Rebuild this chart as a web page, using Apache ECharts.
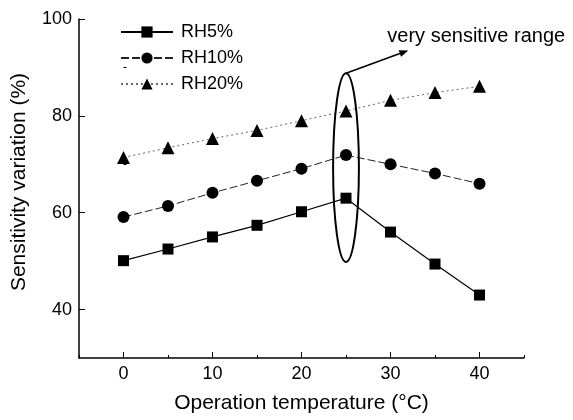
<!DOCTYPE html>
<html>
<head>
<meta charset="utf-8">
<script src="https://cdn.jsdelivr.net/npm/echarts@6/dist/echarts.min.js"></script>
<style>
  html, body { margin: 0; padding: 0; background: #fff; }
  #chart { width: 573px; height: 420px; }
</style>
</head>
<body>
<div id="chart"></div>
<script>
// Operation temperature (°C)
const temperatures = [0, 5, 10, 15, 20, 25, 30, 35, 40];
// Sensitivity variation (%) at each relative humidity
const rh5 = [50.1, 52.5, 55.0, 57.4, 60.2, 63.0, 56.0, 49.4, 43.0];
const rh10 = [59.1, 61.4, 64.1, 66.6, 69.1, 71.9, 70.0, 68.1, 66.0];
const rh20 = [71.4, 73.4, 75.3, 77.0, 79.0, 81.0, 83.2, 84.8, 86.1];
const seriesNames = ['RH5%', 'RH10%', 'RH20%'];

const xMajorTicks = [0, 10, 20, 30, 40];
const xMinorTicks = [-5, 5, 15, 25, 35, 45];
const yMajorTicks = [40, 60, 80, 100];
const yMinorTicks = [50, 70, 90];

// Highlighted region: temperature and sensitivity span of the ellipse
const rangeTemp = 25;
const rangeLow = 49.8;
const rangeHigh = 88.8;
const rangeHalfWidth = 1.45;
const arrowTip = [32.0, 93.5];
const rangeLabel = 'very sensitive range';

const FONT = '"Liberation Sans", Arial, sans-serif';

const pairs = vals => temperatures.map((t, i) => [t, vals[i]]);

const chart = echarts.init(document.getElementById('chart'));

const axisLineStyle = { color: '#000', width: 1.5 };

const option = {
  animation: false,
  backgroundColor: '#fff',
  textStyle: { fontFamily: FONT },
  grid: { left: 79, right: 49, top: 19, bottom: 62 },
  legend: {
    orient: 'vertical',
    left: 120,
    top: 23,
    padding: 0,
    itemWidth: 52,
    itemHeight: 14,
    itemGap: 8,
    data: seriesNames,
    textStyle: { fontFamily: FONT, fontSize: 18, lineHeight: 18, color: '#000', padding: [0, 0, 0, 3] }
  },
  xAxis: [{
    type: 'value',
    min: -5,
    max: 45,
    interval: 5,
    name: 'Operation temperature (\u00B0C)',
    nameLocation: 'middle',
    nameGap: 35,
    nameTextStyle: { fontFamily: FONT, fontSize: 21, color: '#000' },
    axisLine: { show: true, onZero: false, lineStyle: axisLineStyle },
    axisTick: { show: true, inside: true, length: 6, customValues: xMajorTicks, lineStyle: { color: '#000', width: 1 } },
    axisLabel: { customValues: xMajorTicks, fontFamily: FONT, fontSize: 18, color: '#000', margin: 7 },
    splitLine: { show: false }
  }, {
    type: 'value',
    min: -5,
    max: 45,
    interval: 5,
    position: 'bottom',
    axisLine: { show: false },
    axisTick: { show: true, inside: true, length: 3, customValues: xMinorTicks, lineStyle: { color: '#000', width: 1 } },
    axisLabel: { show: false },
    splitLine: { show: false }
  }],
  yAxis: [{
    type: 'value',
    min: 30,
    max: 100,
    interval: 10,
    name: 'Sensitivity variation (%)',
    nameLocation: 'middle',
    nameGap: 49,
    nameTextStyle: { fontFamily: FONT, fontSize: 21, color: '#000', padding: [0, 0, 0, 13] },
    axisLine: { show: true, onZero: false, lineStyle: axisLineStyle },
    axisTick: { show: true, inside: true, length: 6, customValues: yMajorTicks, lineStyle: { color: '#000', width: 1 } },
    axisLabel: { customValues: yMajorTicks, fontFamily: FONT, fontSize: 18, color: '#000', margin: 7 },
    splitLine: { show: false }
  }, {
    type: 'value',
    min: 30,
    max: 100,
    interval: 10,
    position: 'left',
    axisLine: { show: false },
    axisTick: { show: true, inside: true, length: 3, customValues: yMinorTicks, lineStyle: { color: '#000', width: 1 } },
    axisLabel: { show: false },
    splitLine: { show: false }
  }],
  series: [{
    name: seriesNames[0],
    type: 'line',
    data: pairs(rh5),
    symbol: 'rect',
    symbolSize: 11,
    itemStyle: { color: '#000' },
    lineStyle: { color: '#000', width: 1.2, type: 'solid' }
  }, {
    name: seriesNames[1],
    type: 'line',
    data: pairs(rh10),
    symbol: 'circle',
    symbolSize: 12,
    itemStyle: { color: '#000' },
    lineStyle: { color: '#222', width: 1, type: [8, 3] }
  }, {
    name: seriesNames[2],
    type: 'line',
    data: pairs(rh20),
    symbol: 'triangle',
    symbolSize: 13,
    itemStyle: { color: '#000' },
    lineStyle: { color: '#666', width: 1, type: [2, 3] }
  }]
};

chart.setOption(option);

// Ellipse, arrow and caption marking the sensitive range, placed in data space
function drawAnnotation() {
  const toPx = p => chart.convertToPixel({ gridIndex: 0 }, p);
  const top = toPx([rangeTemp, rangeHigh]);
  const bottom = toPx([rangeTemp, rangeLow]);
  const side = toPx([rangeTemp + rangeHalfWidth, rangeLow]);
  const tip = toPx(arrowTip);
  const cx = top[0];
  const cy = (top[1] + bottom[1]) / 2;
  const ry = (bottom[1] - top[1]) / 2;
  const rx = side[0] - cx;

  const dx = tip[0] - top[0], dy = tip[1] - top[1];
  const len = Math.hypot(dx, dy);
  const ux = dx / len, uy = dy / len;
  const headLen = 9, headW = 3.5;
  const base = [tip[0] - ux * headLen, tip[1] - uy * headLen];
  const head = [
    tip,
    [base[0] - uy * headW, base[1] + ux * headW],
    [base[0] + uy * headW, base[1] - ux * headW]
  ];

  chart.setOption({
    graphic: [{
      type: 'ellipse',
      shape: { cx: cx, cy: cy, rx: rx, ry: ry },
      style: { fill: 'none', stroke: '#000', lineWidth: 2 },
      z: 10
    }, {
      type: 'line',
      shape: { x1: top[0], y1: top[1], x2: base[0], y2: base[1] },
      style: { stroke: '#000', lineWidth: 1.5 },
      z: 10
    }, {
      type: 'polygon',
      shape: { points: head },
      style: { fill: '#000' },
      z: 10
    }, {
      type: 'text',
      x: tip[0] - 21,
      y: tip[1] - 14,
      style: {
        text: rangeLabel,
        font: '20px ' + FONT,
        fill: '#000',
        textAlign: 'left',
        textVerticalAlign: 'middle'
      },
      z: 10
    }]
  });
}
drawAnnotation();
</script>
</body>
</html>
